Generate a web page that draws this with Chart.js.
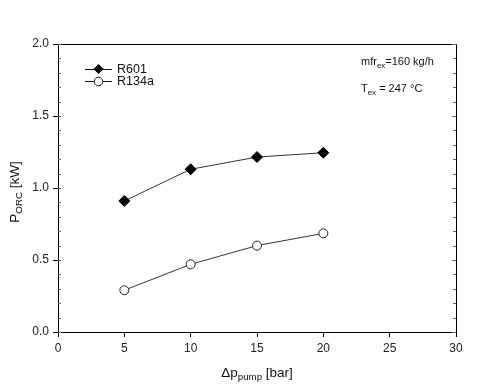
<!DOCTYPE html>
<html>
<head>
<meta charset="utf-8">
<script src="https://cdn.jsdelivr.net/npm/chart.js@4"></script>
<style>
  body { margin: 0; background: #fff; }
  #wrap { width: 480px; height: 388px; }
</style>
</head>
<body>
<div id="wrap"><canvas id="chart" width="480" height="388"></canvas></div>
<script>
// data
const pumpDelta = [5, 10, 15, 20];
const powerR601 = [0.91, 1.13, 1.215, 1.245];
const powerR134a = [0.29, 0.47, 0.60, 0.685];
const seriesNames = ['R601', 'R134a'];
const xTicks = [0, 5, 10, 15, 20, 25, 30];
const yTicks = [0, 0.5, 1.0, 1.5, 2.0];

const FONT = '"Liberation Sans", Arial, sans-serif';

function pts(xs, ys) {
  return xs.map((x, i) => ({ x: x, y: ys[i] }));
}

// draws text with a subscript part: [[text, isSub], ...]
function drawRich(ctx, parts, x, y, size, align) {
  let total = 0;
  parts.forEach(p => {
    ctx.font = (p[1] ? size * 0.72 : size) + 'px ' + FONT;
    total += ctx.measureText(p[0]).width;
  });
  let cx = align === 'center' ? x - total / 2 : x;
  parts.forEach(p => {
    ctx.font = (p[1] ? size * 0.72 : size) + 'px ' + FONT;
    ctx.fillText(p[0], cx, p[1] ? y + size * 0.35 : y);
    cx += ctx.measureText(p[0]).width;
  });
}

const extras = {
  id: 'extras',
  afterDraw(c) {
    const ctx = c.ctx;
    const a = c.chartArea;
    const ys = c.scales.y;
    ctx.save();
    ctx.strokeStyle = '#000';
    ctx.lineWidth = 1;
    // frame top and right
    ctx.beginPath();
    ctx.moveTo(a.left, a.top + 0.5);
    ctx.lineTo(a.right + 0.5, a.top + 0.5);
    ctx.lineTo(a.right + 0.5, a.bottom);
    ctx.stroke();
    // minor ticks, inside
    ctx.strokeStyle = '#666';
    for (let v = 0; v <= 2.0001; v += 0.1) {
      const py = Math.round(ys.getPixelForValue(v)) + 0.5;
      const major = Math.abs(v * 2 - Math.round(v * 2)) < 1e-6;
      ctx.beginPath();
      ctx.moveTo(a.left, py); ctx.lineTo(a.left + 3, py);
      ctx.moveTo(a.right, py); ctx.lineTo(a.right - (major ? 4 : 3), py);
      ctx.stroke();
    }
    // legend
    const lx = 85, rows = [69, 81];
    ctx.strokeStyle = '#111';
    rows.forEach((ry, i) => {
      ctx.beginPath();
      ctx.moveTo(lx, ry + 0.5); ctx.lineTo(lx + 27, ry + 0.5);
      ctx.stroke();
      const mx = lx + 13.5;
      ctx.beginPath();
      if (i === 0) {
        ctx.fillStyle = '#000';
        ctx.moveTo(mx, ry - 5); ctx.lineTo(mx + 5, ry);
        ctx.lineTo(mx, ry + 5); ctx.lineTo(mx - 5, ry);
        ctx.closePath(); ctx.fill();
      } else {
        ctx.fillStyle = '#fff';
        ctx.arc(mx, ry + 0.5, 4.3, 0, Math.PI * 2);
        ctx.fill(); ctx.stroke();
      }
      ctx.fillStyle = '#111';
      ctx.textBaseline = 'middle';
      ctx.textAlign = 'left';
      ctx.font = '12.5px ' + FONT;
      ctx.fillText(seriesNames[i], lx + 32, ry + 1);
    });
    // notes
    ctx.fillStyle = '#111';
    ctx.textBaseline = 'middle';
    drawRich(ctx, [['mfr', false], ['ex', true], ['=160 kg/h', false]], 361, 62, 11, 'left');
    drawRich(ctx, [['T', false], ['ex', true], [' = 247 °C', false]], 361, 89, 11, 'left');
    // axis titles
    drawRich(ctx, [['\u0394p', false], ['pump', true], [' [bar]', false]], 257, 373, 13.5, 'center');
    ctx.translate(15, 192);
    ctx.rotate(-Math.PI / 2);
    drawRich(ctx, [['P', false], ['ORC', true], [' [kW]', false]], 0, 0, 13.5, 'center');
    ctx.restore();
  }
};

const ctx = document.getElementById('chart');
new Chart(ctx, {
  type: 'scatter',
  data: {
    datasets: [
      {
        label: seriesNames[0],
        data: pts(pumpDelta, powerR601),
        showLine: true,
        borderColor: '#333',
        borderWidth: 1,
        backgroundColor: '#000',
        pointStyle: 'rectRot',
        pointRadius: 5.5,
        pointBorderColor: '#000',
        pointBackgroundColor: '#000'
      },
      {
        label: seriesNames[1],
        data: pts(pumpDelta, powerR134a),
        showLine: true,
        borderColor: '#333',
        borderWidth: 1,
        pointStyle: 'circle',
        pointRadius: 4.5,
        pointBorderColor: '#222',
        pointBackgroundColor: '#fff'
      }
    ]
  },
  options: {
    responsive: false,
    animation: false,
    layout: { padding: { top: 44, right: 24, left: 0, bottom: 0 } },
    plugins: { legend: { display: false }, tooltip: { enabled: false } },
    scales: {
      x: {
        type: 'linear',
        min: 0, max: 30,
        afterBuildTicks: s => { s.ticks = xTicks.map(v => ({ value: v })); },
        afterFit: s => { s.height = 56; },
        grid: { drawOnChartArea: false, tickLength: 5, color: '#000' },
        border: { color: '#000', width: 1 },
        ticks: { color: '#222', padding: 4, font: { family: FONT, size: 12 }, maxRotation: 0 }
      },
      y: {
        min: 0, max: 2,
        afterBuildTicks: s => { s.ticks = yTicks.map(v => ({ value: v })); },
        afterFit: s => { s.width = 58; },
        grid: { drawOnChartArea: false, tickLength: 5, color: '#000' },
        border: { color: '#000', width: 1 },
        ticks: { color: '#222', padding: 4, font: { family: FONT, size: 12 },
          callback: v => v.toFixed(1) }
      }
    }
  },
  plugins: [extras]
});
</script>
</body>
</html>
